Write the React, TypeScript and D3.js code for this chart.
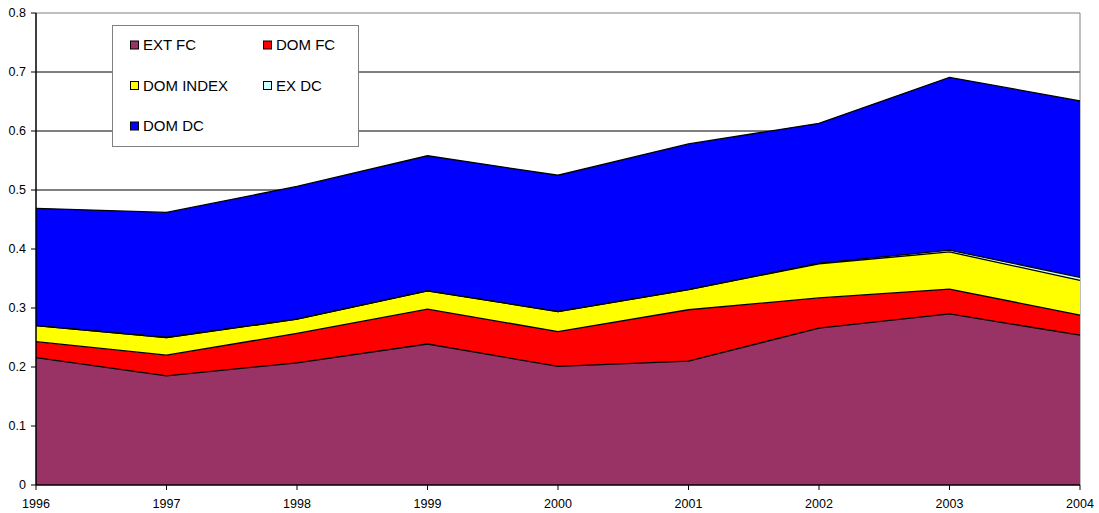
import React from "react";
import * as d3 from "d3";

const years = [1996, 1997, 1998, 1999, 2000, 2001, 2002, 2003, 2004];
const extFC = [0.216, 0.185, 0.207, 0.239, 0.201, 0.210, 0.266, 0.290, 0.254];
const domFC = [0.027, 0.035, 0.050, 0.059, 0.059, 0.087, 0.051, 0.042, 0.034];
const domIndex = [0.027, 0.030, 0.024, 0.031, 0.034, 0.034, 0.058, 0.063, 0.059];
const exDC = [0, 0, 0, 0, 0, 0, 0.001, 0.003, 0.005];
const domDC = [0.199, 0.212, 0.225, 0.229, 0.231, 0.247, 0.237, 0.293, 0.299];
const yTicks = [0, 0.1, 0.2, 0.3, 0.4, 0.5, 0.6, 0.7, 0.8];

const seriesDefs = [
  { key: "EXT FC", values: extFC, color: "#993366" },
  { key: "DOM FC", values: domFC, color: "#FF0000" },
  { key: "DOM INDEX", values: domIndex, color: "#FFFF00" },
  { key: "EX DC", values: exDC, color: "#CCFFFF" },
  { key: "DOM DC", values: domDC, color: "#0000FF" },
];

const legendRows = [
  ["EXT FC", "DOM FC"],
  ["DOM INDEX", "EX DC"],
  ["DOM DC"],
];

export default function App() {
  const W = 1099, H = 513;
  const x = d3.scaleLinear().domain([1996, 2004]).range([36, 1080]);
  const y = d3.scaleLinear().domain([0, 0.8]).range([485, 13]);

  const table = years.map((yr, i) => {
    const row: any = { year: yr };
    seriesDefs.forEach((s) => (row[s.key] = s.values[i]));
    return row;
  });
  const stack = d3.stack().keys(seriesDefs.map((s) => s.key))(table as any);
  const area = d3
    .area<any>()
    .x((d) => x(d.data.year))
    .y0((d) => y(d[0]))
    .y1((d) => y(d[1]));
  const topLine = d3
    .line<any>()
    .x((d) => x(d.data.year))
    .y((d) => y(d[1]));
  const colorOf = (k: string) => seriesDefs.find((s) => s.key === k)!.color;
  const font = "Arial, 'Liberation Sans', sans-serif";

  return (
    <svg width={W} height={H} style={{ position: "absolute", left: 0, top: 0 }} fontFamily={font}>
      <rect x={0} y={0} width={W} height={H} fill="#fff" />
      {/* gridlines */}
      {yTicks.slice(1, -1).map((t) => (
        <line key={t} x1={x(1996)} x2={x(2004)} y1={y(t)} y2={y(t)} stroke="#000" strokeWidth={1} />
      ))}
      {/* plot border */}
      <line x1={x(1996)} x2={x(2004)} y1={y(0.8)} y2={y(0.8)} stroke="#808080" strokeWidth={1} />
      <line x1={x(2004)} x2={x(2004)} y1={y(0.8)} y2={y(0)} stroke="#808080" strokeWidth={1} />
      {/* areas */}
      {stack.map((s) => (
        <path key={s.key} d={area(s as any) || ""} fill={colorOf(s.key)} stroke="none" />
      ))}
      {stack.map((s) => (
        <path key={s.key + "l"} d={topLine(s as any) || ""} fill="none" stroke="#000" strokeWidth={1.3} />
      ))}
      {/* axes */}
      <line x1={x(1996)} x2={x(1996)} y1={y(0.8)} y2={y(0)} stroke="#000" strokeWidth={1.5} />
      <line x1={x(1996)} x2={x(2004)} y1={y(0)} y2={y(0)} stroke="#000" strokeWidth={1.5} />
      {yTicks.map((t) => (
        <g key={t}>
          <line x1={x(1996) - 5} x2={x(1996)} y1={y(t)} y2={y(t)} stroke="#000" />
          <text x={x(1996) - 10} y={y(t)} dy="0.35em" textAnchor="end" fontSize={12.5} fill="#000">
            {t === 0 ? "0" : d3.format(".1f")(t)}
          </text>
        </g>
      ))}
      {years.map((yr) => (
        <g key={yr}>
          <line x1={x(yr)} x2={x(yr)} y1={y(0)} y2={y(0) + 5} stroke="#000" />
          <text x={x(yr)} y={y(0) + 23} textAnchor="middle" fontSize={12.5} fill="#000">
            {yr}
          </text>
        </g>
      ))}
      {/* legend */}
      <rect x={112.5} y={25.5} width={246} height={121} fill="#fff" stroke="#808080" strokeWidth={1} />
      {legendRows.map((row, ri) =>
        row.map((k, ci) => {
          const lx = 130 + ci * 133;
          const ly = 45 + ri * 40.5;
          return (
            <g key={k}>
              <rect x={lx + 0.5} y={ly - 4} width={8} height={8} fill={colorOf(k)} stroke="#000" strokeWidth={1} />
              <text x={lx + 13} y={ly} dy="0.36em" fontSize={15} fill="#000">
                {k}
              </text>
            </g>
          );
        })
      )}
    </svg>
  );
}
